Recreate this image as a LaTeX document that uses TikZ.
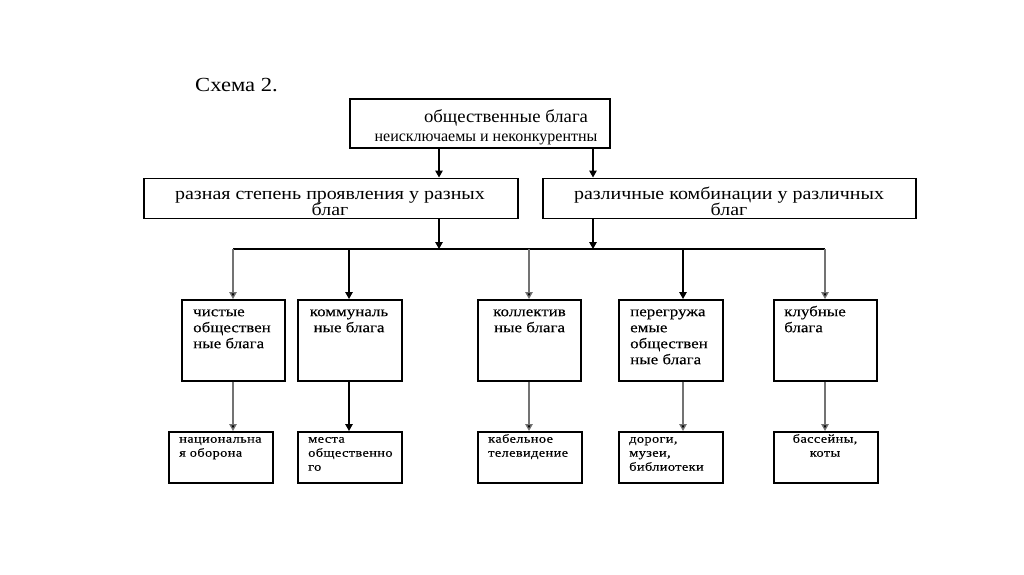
\documentclass[tikz,border=0pt]{standalone}
\usepackage{fontspec}
\setmainfont{Liberation Serif}
\usetikzlibrary{arrows.meta}
\newcommand{\myTS}{\rule{0pt}{1em}}
\tikzset{
  box/.style={draw=black, line width=1.5pt, inner sep=0pt, anchor=north west, fill=white},
  arr/.style={line width=1.3pt, -{Triangle[length=7pt,width=7.5pt]}},
  garr/.style={arr, draw=black!55, -{Triangle[length=7pt,width=7.5pt,fill=black]}},
  ln/.style={line width=1.3pt},
  txt/.style={inner sep=0pt, anchor=north west, align=left},
  ctxt/.style={inner sep=0pt, anchor=north, align=center},
  ttl/.style={font={\fontsize{20}{22}\selectfont\addfontfeature{FakeStretch=1.13}}},
  big/.style={font={\fontsize{18}{20}\selectfont\addfontfeature{FakeStretch=1.04}}},
  bigb/.style={font={\fontsize{16}{18}\selectfont}},
  mid/.style={font={\fontsize{17.5}{16.5}\selectfont\addfontfeature{FakeStretch=1.14}}},
  sm/.style={font={\fontsize{14.5}{16}\selectfont\addfontfeature{FakeStretch=1.17,FakeBold=0.3}}},
  tiny/.style={font={\fontsize{12}{14}\selectfont\addfontfeature{FakeStretch=1.2,LetterSpace=3,FakeBold=0.3}}},
}
\begin{document}
\begin{tikzpicture}[x=1pt,y=-1pt]
\useasboundingbox[fill=white] (0,0) rectangle (1024,574);
\node[txt, ttl] (title) at (195,71) {\myTS Схема 2.};
% top
\node[box, minimum width=260pt, minimum height=49pt] (top) at (349,98) {};
\node[ctxt, big] (ttop) at (506,104) {\myTS общественные блага};
\node[ctxt, bigb] (ttop2) at (486,125) {\myTS неисключаемы и неконкурентны};
% second row
\node[box, minimum width=374pt, minimum height=40pt] (l2) at (143,177.5) {};
\node[box, minimum width=373pt, minimum height=40pt] (r2) at (542,177.5) {};
\node[ctxt, mid] (tl2) at (330,181.5) {\myTS разная степень проявления у разных\\благ};
\node[ctxt, mid] (tr2) at (729,181.5) {\myTS различные комбинации у различных\\благ};
% bus coordinates
\coordinate (ja) at (439,249);
\coordinate (jb) at (593,249);
\coordinate (c1) at (233,249);
\coordinate (c2) at (349,249);
\coordinate (c3) at (529,249);
\coordinate (c4) at (683,249);
\coordinate (c5) at (825,249);
% third row
\node[box, minimum width=103pt, minimum height=81pt] (m1) at (181,299) {};
\node[box, minimum width=104pt, minimum height=81pt] (m2) at (297,299) {};
\node[box, minimum width=103pt, minimum height=81pt] (m3) at (477,299) {};
\node[box, minimum width=104pt, minimum height=81pt] (m4) at (618,299) {};
\node[box, minimum width=103pt, minimum height=81pt] (m5) at (773,299) {};
\node[txt, sm] (tm1) at (193,301.5) {\myTS чистые\\обществен\\ные блага};
\node[ctxt, sm] (tm2) at (349,301.5) {\myTS коммуналь\\ные блага};
\node[ctxt, sm] (tm3) at (529.5,301.5) {\myTS коллектив\\ные блага};
\node[txt, sm] (tm4) at (630,301.5) {\myTS перегружа\\емые\\обществен\\ные блага};
\node[txt, sm] (tm5) at (784,301.5) {\myTS клубные\\блага};
% bottom row
\node[box, minimum width=104pt, minimum height=51pt] (b1) at (168,431) {};
\node[box, minimum width=104pt, minimum height=51pt] (b2) at (297,431) {};
\node[box, minimum width=104pt, minimum height=51pt] (b3) at (477,431) {};
\node[box, minimum width=104pt, minimum height=51pt] (b4) at (618,431) {};
\node[box, minimum width=104pt, minimum height=51pt] (b5) at (773,431) {};
\node[txt, tiny] (tb1) at (179,430.5) {\myTS национальна\\я оборона};
\node[txt, tiny] (tb2) at (308,430.5) {\myTS места\\общественно\\го};
\node[txt, tiny] (tb3) at (488,430.5) {\myTS кабельное\\телевидение};
\node[txt, tiny] (tb4) at (629,430.5) {\myTS дороги,\\музеи,\\библиотеки};
\node[ctxt, tiny] (tb5) at (825,430.5) {\myTS бассейны,\\коты};
% connectors
\draw[arr] (top.south -| ja) -- (l2.north -| ja);
\draw[arr] (top.south -| jb) -- (r2.north -| jb);
\draw[arr] (l2.south -| ja) -- (ja);
\draw[arr] (r2.south -| jb) -- (jb);
\draw[ln] (c1) -- (c5);
\draw[garr] (c1) -- (m1.north -| c1);
\draw[arr] (c2) -- (m2.north -| c2);
\draw[garr] (c3) -- (m3.north -| c3);
\draw[arr] (c4) -- (m4.north -| c4);
\draw[garr] (c5) -- (m5.north -| c5);
\draw[garr] (m1.south -| c1) -- (b1.north -| c1);
\draw[arr] (m2.south -| c2) -- (b2.north -| c2);
\draw[garr] (m3.south -| c3) -- (b3.north -| c3);
\draw[garr] (m4.south -| c4) -- (b4.north -| c4);
\draw[garr] (m5.south -| c5) -- (b5.north -| c5);
\end{tikzpicture}
\end{document}
